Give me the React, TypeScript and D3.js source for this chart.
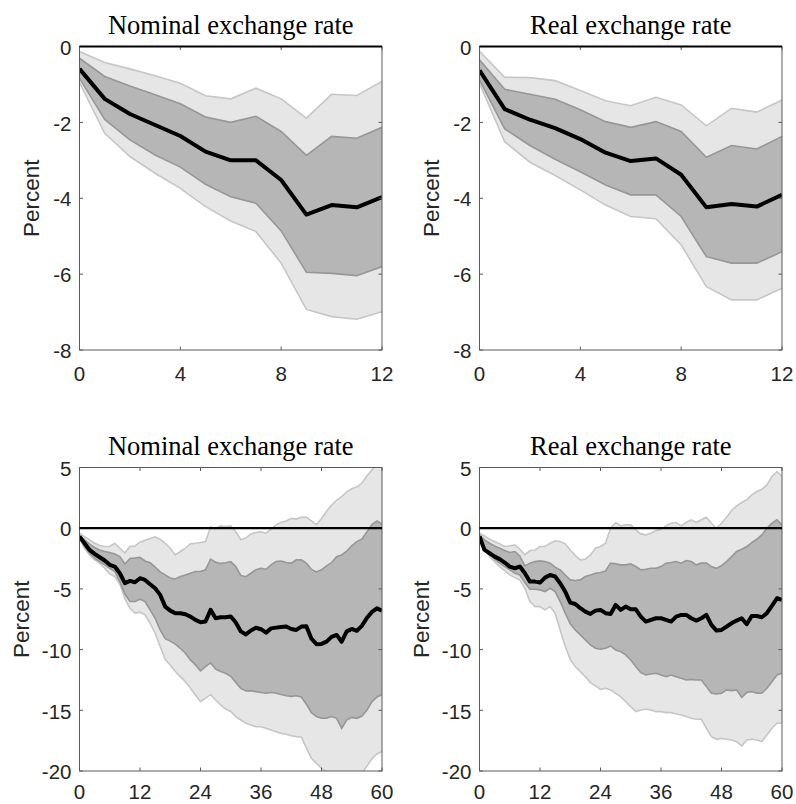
import * as d3 from 'd3'

// horizons
const shortHorizon = d3.range(0, 13)
const longHorizon = d3.range(0, 61)

const shortTicksX = [0, 4, 8, 12]
const shortTicksY = [0, -2, -4, -6, -8]
const longTicksX = [0, 12, 24, 36, 48, 60]
const longTicksY = [5, 0, -5, -10, -15, -20]

const titles = ['Nominal exchange rate', 'Real exchange rate', 'Nominal exchange rate', 'Real exchange rate']

// top left: nominal, 12 months
const tlMed = [-0.59, -1.38, -1.78, -2.07, -2.36, -2.77, -3.0, -3.0, -3.52, -4.43, -4.18, -4.24, -3.97]
const tlInHi = [-0.31, -0.79, -1.04, -1.27, -1.51, -1.86, -2.0, -1.84, -2.24, -2.87, -2.37, -2.42, -2.13]
const tlInLo = [-0.84, -1.92, -2.46, -2.86, -3.18, -3.63, -3.96, -4.13, -4.86, -5.95, -5.98, -6.04, -5.8]
const tlOutHi = [-0.13, -0.42, -0.59, -0.77, -0.97, -1.3, -1.38, -1.1, -1.38, -1.89, -1.26, -1.29, -0.92]
const tlOutLo = [-0.95, -2.29, -2.9, -3.34, -3.74, -4.22, -4.6, -4.88, -5.71, -6.93, -7.12, -7.19, -6.99]

// top right: real, 12 months
const trMed = [-0.63, -1.65, -1.93, -2.15, -2.44, -2.8, -3.02, -2.95, -3.38, -4.24, -4.15, -4.22, -3.91]
const trInHi = [-0.35, -1.13, -1.26, -1.39, -1.67, -1.98, -2.13, -1.98, -2.24, -2.92, -2.61, -2.7, -2.37]
const trInLo = [-0.88, -2.17, -2.61, -2.97, -3.3, -3.65, -3.91, -3.91, -4.48, -5.54, -5.71, -5.71, -5.41]
const trOutHi = [-0.13, -0.81, -0.82, -0.9, -1.16, -1.43, -1.56, -1.34, -1.54, -2.09, -1.63, -1.73, -1.41]
const trOutLo = [-0.97, -2.51, -3.05, -3.4, -3.78, -4.18, -4.48, -4.54, -5.23, -6.33, -6.68, -6.68, -6.37]

// bottom left: nominal, 60 months
const blMed = [
  -0.69, -1.24, -1.79, -2.12, -2.39, -2.66, -3.02, -3.16, -3.71, -4.53,
  -4.34, -4.45, -4.12, -4.26, -4.62, -4.95, -5.49, -6.46, -6.79, -7.0,
  -7.0, -7.09, -7.28, -7.55, -7.75, -7.69, -6.73, -7.42, -7.34, -7.34,
  -7.28, -7.77, -8.5, -8.75, -8.43, -8.2, -8.32, -8.6, -8.25, -8.19,
  -8.14, -8.1, -8.3, -8.38, -8.1, -8.08, -9.1, -9.55, -9.53, -9.34,
  -8.95, -8.79, -9.35, -8.5, -8.3, -8.45, -8.05, -7.4, -6.9, -6.6, -6.8,
]
const blInHi = [
  -0.6, -0.96, -1.32, -1.59, -1.79, -1.92, -2.0, -2.12, -2.34, -2.95,
  -2.5, -2.45, -2.4, -2.7, -2.85, -3.2, -3.6, -3.85, -4.1, -4.18,
  -3.98, -3.85, -3.71, -3.57, -3.57, -3.43, -2.55, -2.8, -2.9, -2.85,
  -2.75, -3.16, -3.9, -4.0, -3.71, -3.43, -3.3, -3.38, -3.02, -2.75,
  -2.7, -2.83, -2.88, -2.61, -2.61, -2.88, -3.4, -3.6, -3.43, -3.1,
  -2.83, -2.34, -2.2, -1.9, -1.45, -1.1, -0.9, -0.3, 0.3, 0.6, 0.35,
]
const blInLo = [
  -0.74, -1.51, -2.06, -2.47, -2.75, -3.02, -3.3, -3.57, -4.4, -5.4,
  -6.04, -6.04, -5.85, -6.04, -6.73, -7.42, -8.38, -9.1, -9.3, -9.55,
  -9.89, -10.3, -10.85, -11.26, -11.75, -11.4, -11.1, -11.6, -11.8, -11.95,
  -12.2, -12.7, -13.2, -13.4, -13.38, -13.46, -13.54, -13.6, -13.54, -13.6,
  -13.7, -13.8, -13.85, -13.8, -13.9, -14.5, -15.2, -15.52, -15.66, -15.66,
  -15.52, -15.66, -16.48, -15.8, -15.58, -15.66, -15.5, -15.0, -14.3, -13.9, -13.7,
]
const blOutHi = [
  -0.41, -0.69, -0.96, -1.24, -1.43, -1.51, -1.51, -1.24, -1.65, -2.05,
  -1.51, -1.46, -1.15, -1.0, -0.85, -0.72, -0.91, -1.24, -1.65, -2.2,
  -1.92, -1.65, -1.29, -1.24, -1.18, -1.1, 0.1, -0.05, 0.19, 0.14,
  0.2, -0.3, -0.95, -0.8, -0.47, -0.36, -0.3, -0.41, -0.08, 0.27,
  0.5, 0.6, 0.82, 0.75, 0.9, 0.91, 0.6, 0.3, 0.8, 1.4,
  1.9, 2.3, 2.6, 3.0, 3.25, 3.4, 3.7, 4.3, 4.8, 5.3, 5.5,
]
const blOutLo = [
  -0.82, -1.65, -2.2, -2.61, -2.88, -3.3, -3.76, -3.98, -4.6, -5.8,
  -6.59, -7.0, -6.92, -7.14, -7.83, -8.65, -9.75, -10.8, -11.26, -11.81,
  -12.23, -12.64, -13.19, -13.74, -14.29, -14.0, -13.7, -14.15, -14.56, -14.9,
  -15.1, -15.52, -15.8, -16.07, -16.21, -16.35, -16.35, -16.48, -16.62, -16.76,
  -16.9, -16.98, -17.09, -17.17, -17.2, -18.1, -18.96, -19.37, -19.78, -20.05,
  -20.19, -20.33, -20.47, -21.0, -20.7, -20.47, -20.19, -19.6, -19.0, -18.6, -18.4,
]

// bottom right: real, 60 months
const brMed = [
  -0.69, -1.79, -2.06, -2.34, -2.55, -2.83, -3.16, -3.3, -3.16, -3.71,
  -4.4, -4.4, -4.48, -4.07, -3.85, -3.98, -4.53, -5.22, -6.13, -6.24,
  -6.59, -6.87, -7.06, -6.79, -6.73, -7.0, -7.06, -6.32, -6.73, -6.46,
  -6.68, -6.68, -7.28, -7.69, -7.55, -7.42, -7.42, -7.55, -7.69, -7.28,
  -7.14, -7.14, -7.42, -7.61, -7.42, -7.14, -7.97, -8.43, -8.38, -8.1,
  -7.83, -7.61, -7.42, -7.91, -7.23, -7.23, -7.34, -7.0, -6.4, -5.77, -5.91,
]
const brInHi = [
  -0.55, -0.96, -1.24, -1.46, -1.65, -1.84, -2.0, -1.92, -2.28, -3.1,
  -2.88, -2.75, -2.69, -2.75, -2.88, -3.21, -3.43, -3.85, -4.26, -4.31,
  -4.26, -3.98, -3.85, -3.71, -3.65, -3.52, -2.88, -2.94, -3.02, -3.02,
  -2.94, -3.16, -3.43, -3.38, -3.3, -3.3, -3.16, -2.88, -2.83, -2.75,
  -2.88, -2.66, -2.75, -3.02, -2.88, -2.88, -3.16, -3.3, -3.08, -2.75,
  -2.34, -1.92, -1.73, -1.51, -1.18, -0.91, -0.55, 0.0, 0.41, 0.69, 0.27,
]
const brInLo = [
  -0.74, -1.65, -2.12, -2.55, -2.88, -3.16, -3.43, -3.71, -3.85, -4.48,
  -5.03, -5.03, -5.08, -5.22, -4.95, -5.22, -6.04, -7.0, -7.88, -8.38,
  -8.79, -9.2, -9.62, -9.89, -9.97, -9.89, -9.7, -10.03, -10.16, -10.44,
  -10.85, -11.4, -11.9, -12.09, -12.01, -11.95, -12.09, -12.23, -12.09, -12.23,
  -12.36, -12.5, -12.45, -12.5, -12.5, -13.05, -13.6, -13.65, -13.6, -13.32,
  -13.38, -13.32, -13.95, -13.54, -13.46, -13.6, -13.6, -13.19, -12.64, -12.09, -11.95,
]
const brOutHi = [
  -0.41, -0.63, -0.91, -1.1, -1.29, -1.51, -1.46, -1.37, -1.73, -2.2,
  -1.84, -1.79, -1.51, -1.51, -1.24, -1.04, -1.1, -1.29, -1.79, -2.26,
  -2.61, -2.55, -2.2, -1.65, -1.51, -1.24, 0.0, 0.47, 0.19, 0.27,
  0.27, -0.14, -0.47, -0.55, -0.41, -0.19, -0.08, 0.19, 0.41, 0.47,
  0.19, 0.47, 0.69, 0.47, 0.69, 0.91, 0.41, 0.0, 0.41, 0.91,
  1.46, 1.84, 2.12, 2.34, 2.75, 3.02, 3.21, 3.57, 4.26, 4.67, 4.26,
]
const brOutLo = [
  -0.82, -1.79, -2.34, -2.75, -3.16, -3.49, -3.85, -4.07, -4.26, -4.95,
  -6.04, -6.46, -6.46, -6.73, -6.46, -7.0, -8.38, -9.75, -10.8, -11.4,
  -11.81, -12.23, -12.72, -12.99, -13.27, -13.19, -13.32, -13.6, -13.87, -14.29,
  -14.7, -15.11, -14.97, -14.92, -14.97, -15.11, -15.11, -15.19, -15.19, -15.3,
  -15.38, -15.52, -15.66, -15.74, -15.74, -16.48, -17.17, -17.39, -17.31, -17.39,
  -17.45, -17.58, -17.94, -17.45, -17.39, -17.45, -17.58, -17.03, -16.48, -16.07, -16.07,
]

const sans = 'Arial, "Liberation Sans", Helvetica, sans-serif'
const serif = '"Liberation Serif", "Times New Roman", serif'

interface PanelProps {
  id: string
  left: number
  top: number
  width: number
  height: number
  title: string
  labelX: number
  tickLabelGap: number
  horizon: number[]
  xTicks: number[]
  yTicks: number[]
  med: number[]
  inHi: number[]
  inLo: number[]
  outHi: number[]
  outLo: number[]
}

function Panel(p: PanelProps) {
  const x = d3.scaleLinear()
    .domain([0, p.horizon[p.horizon.length - 1]])
    .range([p.left, p.left + p.width])
  const y = d3.scaleLinear()
    .domain([d3.min(p.yTicks)!, d3.max(p.yTicks)!])
    .range([p.top + p.height, p.top])

  const band = (hi: number[], lo: number[]) =>
    d3.area<number>()
      .x(d => x(d))
      .y0(d => y(lo[d]))
      .y1(d => y(hi[d]))(p.horizon) || ''

  const edge = (vals: number[]) =>
    d3.line<number>()
      .x(d => x(d))
      .y(d => y(vals[d]))(p.horizon) || ''

  const bottom = p.top + p.height
  const right = p.left + p.width
  const tick = 3.5

  return (
    <g>
      <clipPath id={p.id}>
        <rect x={p.left} y={p.top} width={p.width} height={p.height} />
      </clipPath>
      <g clipPath={`url(#${p.id})`}>
        <path d={band(p.outHi, p.outLo)} fill="#e6e6e6" />
        <path d={edge(p.outHi)} fill="none" stroke="#c6c6c6" strokeWidth={1.6} />
        <path d={edge(p.outLo)} fill="none" stroke="#c6c6c6" strokeWidth={1.6} />
        <path d={band(p.inHi, p.inLo)} fill="#b6b6b6" />
        <path d={edge(p.inHi)} fill="none" stroke="#979797" strokeWidth={1.6} />
        <path d={edge(p.inLo)} fill="none" stroke="#979797" strokeWidth={1.6} />
        <path d={edge(p.med)} fill="none" stroke="#000" strokeWidth={4} strokeLinejoin="round" />
      </g>

      {/* axes box */}
      <rect x={p.left} y={p.top} width={p.width} height={p.height} fill="none" stroke="#5a5a5a" strokeWidth={1} />
      {p.xTicks.map(t => (
        <g key={`xt${t}`}>
          <line x1={x(t)} x2={x(t)} y1={bottom} y2={bottom - tick} stroke="#5a5a5a" />
          <line x1={x(t)} x2={x(t)} y1={p.top} y2={p.top + tick} stroke="#5a5a5a" />
          <text x={x(t)} y={bottom + p.tickLabelGap} textAnchor="middle" fontFamily={sans} fontSize={20.5} fill="#262626">{t}</text>
        </g>
      ))}
      {p.yTicks.map(t => (
        <g key={`yt${t}`}>
          <line x1={p.left} x2={p.left + tick} y1={y(t)} y2={y(t)} stroke="#5a5a5a" />
          <line x1={right} x2={right - tick} y1={y(t)} y2={y(t)} stroke="#5a5a5a" />
          <text x={p.left - 8} y={y(t)} dy="0.4em" textAnchor="end" fontFamily={sans} fontSize={20.5} fill="#262626">{t}</text>
        </g>
      ))}

      {/* zero line */}
      <line x1={p.left} x2={right} y1={y(0)} y2={y(0)} stroke="#000" strokeWidth={2.2} />

      <text x={(p.left + right) / 2} y={p.top - 13} textAnchor="middle" fontFamily={serif} fontSize={26.5} fill="#000">{p.title}</text>
      <text
        transform={`translate(${p.labelX},${p.top + p.height / 2}) rotate(-90)`}
        textAnchor="middle"
        dy="0.35em"
        fontFamily={sans}
        fontSize={22.5}
        fill="#262626"
      >Percent</text>
    </g>
  )
}

export default function App() {
  const w = 302.5
  const h = 303.5
  return (
    <svg width={796} height={804} style={{ position: 'absolute', left: 0, top: 0, background: '#fff' }}>
      <Panel id="c1" left={79.5} top={46.5} width={w} height={h} title={titles[0]} labelX={31.5} tickLabelGap={31}
        horizon={shortHorizon} xTicks={shortTicksX} yTicks={shortTicksY}
        med={tlMed} inHi={tlInHi} inLo={tlInLo} outHi={tlOutHi} outLo={tlOutLo} />
      <Panel id="c2" left={479.5} top={46.5} width={w} height={h} title={titles[1]} labelX={431.5} tickLabelGap={31}
        horizon={shortHorizon} xTicks={shortTicksX} yTicks={shortTicksY}
        med={trMed} inHi={trInHi} inLo={trInLo} outHi={trOutHi} outLo={trOutLo} />
      <Panel id="c3" left={79.5} top={467.5} width={w} height={h} title={titles[2]} labelX={21.5} tickLabelGap={28}
        horizon={longHorizon} xTicks={longTicksX} yTicks={longTicksY}
        med={blMed} inHi={blInHi} inLo={blInLo} outHi={blOutHi} outLo={blOutLo} />
      <Panel id="c4" left={479.5} top={467.5} width={w} height={h} title={titles[3]} labelX={421.5} tickLabelGap={28}
        horizon={longHorizon} xTicks={longTicksX} yTicks={longTicksY}
        med={brMed} inHi={brInHi} inLo={brInLo} outHi={brOutHi} outLo={brOutLo} />
    </svg>
  )
}
